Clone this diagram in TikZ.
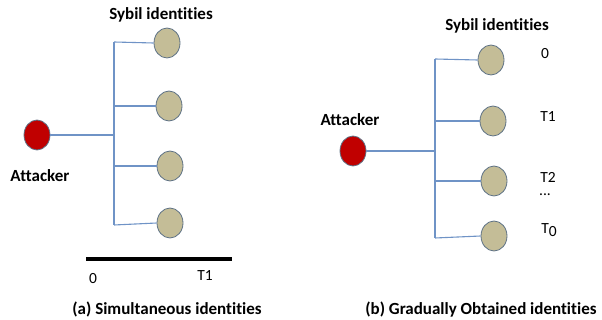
\documentclass[tikz,border=0pt]{standalone}
\usepackage{fontspec}
\setmainfont{Carlito}[Ligatures={NoCommon}]
\usetikzlibrary{shapes.geometric}
\definecolor{atk}{HTML}{C00000}
\definecolor{syb}{HTML}{C4BD97}
\definecolor{sybline}{HTML}{5F7386}
\definecolor{wire}{HTML}{6F93C6}
\begin{document}
\begin{tikzpicture}[x=1pt,y=-1pt,
  attacker/.style={ellipse,draw=sybline,fill=atk,line width=0.8pt,minimum width=26pt,minimum height=30pt,inner sep=0pt},
  sybil/.style={ellipse,draw=sybline,fill=syb,line width=0.8pt,minimum width=26pt,minimum height=30pt,inner sep=0pt},
  wirel/.style={draw=wire,line width=1.1pt},
  title/.style={font=\bfseries\fontsize{17}{19}\selectfont},
  lab/.style={font=\fontsize{15.5}{17}\selectfont}]
\useasboundingbox (0,0) rectangle (602,320);
% ---- (a)
\node[title] (ta) at (161,15) {Sybil identities};
\node[attacker] (a0) at (37,135) {};
\node[title] (atka) at (40,176) {Attacker};
\node[sybil] (a1) at (167,43) {};
\node[sybil] (a2) at (169,106) {};
\node[sybil] (a3) at (170,166) {};
\node[sybil] (a4) at (170,223) {};
\coordinate (bt) at (114,42);
\coordinate (bb) at (114,225);
\coordinate (bm) at (114,135);
\coordinate (b2) at (114,106);
\coordinate (b3) at (114,166);
\draw[wirel] (bt) -- (bb);
\draw[wirel] (a0) -- (bm);
\draw[wirel] (bt) -- (a1.west);
\draw[wirel] (b2) -- (a2.west);
\draw[wirel] (b3) -- (a3.west);
\draw[wirel] (bb) -- (a4.west);
\coordinate (tl) at (86,259);
\coordinate (tr) at (232,259);
\draw[line width=4pt] (tl) -- (tr);
\node[lab] (z0) at (93,279) {0};
\node[lab] (t1a) at (205,276) {T1};
\node[title] (capa) at (167,309) {(a) Simultaneous identities};
% ---- (b)
\node[title] (tb) at (497,26) {Sybil identities};
\node[attacker] (b0) at (353,151) {};
\node[title] (atkb) at (350,120) {Attacker};
\node[sybil] (s1) at (491,60) {};
\node[sybil] (s2) at (493,121) {};
\node[sybil] (s3) at (494,181) {};
\node[sybil] (s4) at (494,236) {};
\coordinate (ct) at (435,59);
\coordinate (cb) at (435,238);
\coordinate (cm) at (435,151);
\coordinate (c2) at (435,121);
\coordinate (c3) at (435,181);
\draw[wirel] (ct) -- (cb);
\draw[wirel] (b0) -- (cm);
\draw[wirel] (ct) -- (s1.west);
\draw[wirel] (c2) -- (s2.west);
\draw[wirel] (c3) -- (s3.west);
\draw[wirel] (cb) -- (s4.west);
\node[lab] (l0) at (545,54) {0};
\node[lab] (l1) at (548,117) {T1};
\node[lab] (l2) at (548,177) {T2};
\node[lab] (ld) at (545,195) {...};
\node[lab] (l3) at (549,230) {T\raisebox{-3pt}{0}};
\node[title,anchor=east] (capb) at (600,310) {(b) Gradually Obtained identities};
\end{tikzpicture}
\end{document}
